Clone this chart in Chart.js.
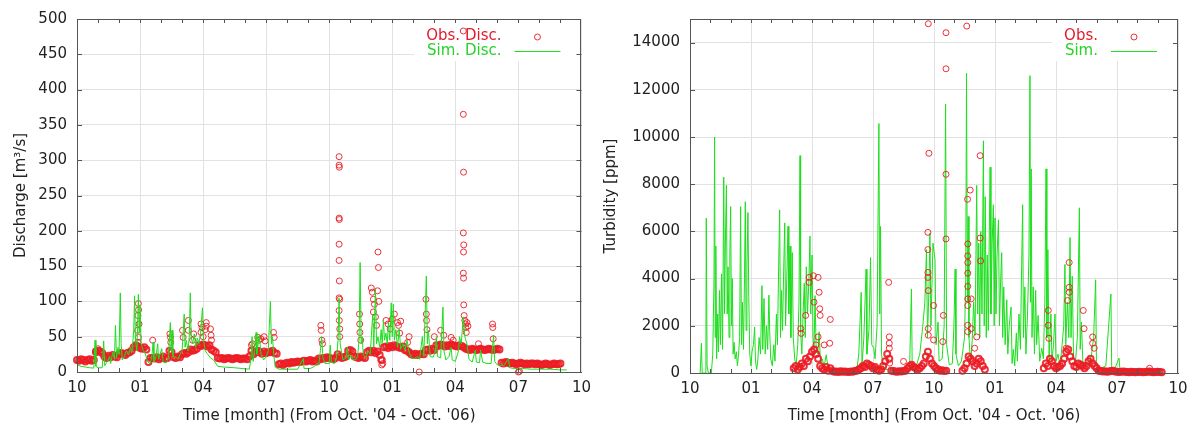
<!DOCTYPE html>
<html lang="en">
<head>
<meta charset="UTF-8">
<title>Discharge and turbidity, Oct. 2004 - Oct. 2006</title>
<script src="https://cdn.jsdelivr.net/npm/chart.js@4"></script>
<style>
    body { margin: 0; background: #fff; }
    .row { display: flex; width: 1197px; height: 425px; }
    .row canvas { display: block; }
</style>
</head>
<body>
<div class="row">
    <canvas id="dischargeChart" width="598" height="425"></canvas>
    <canvas id="turbidityChart" width="599" height="425"></canvas>
</div>

<script>
// time is in months from 1 Oct 2004 (0) to 1 Oct 2006 (24)
const monthLabels = ['10', '01', '04', '07'];
const dischargeTicks = [0, 50, 100, 150, 200, 250, 300, 350, 400, 450, 500];
const turbidityTicks = [0, 2000, 4000, 6000, 8000, 10000, 12000, 14000];

// ---- discharge [m3/s] ----
// simulated discharge, [month, value]
const dischargeSim = [
    [0,10],[0.2,8],[0.4,7],[0.6,6],[0.8,5.5],[0.86,45],[0.9,8],[1.0,6],[1.2,6],[1.27,44],[1.32,9],
    [1.45,15],[1.55,22],[1.6,12],[1.7,28],[1.78,18],[1.83,66],[1.88,20],[1.95,35],[2.0,25],[2.06,112],
    [2.1,40],[2.15,17],[2.25,22],[2.35,30],[2.45,24],[2.55,35],[2.62,28],[2.7,60],[2.74,108],[2.78,45],
    [2.85,30],[2.92,110],[2.96,55],[3.0,95],[3.05,40],[3.15,31],[3.25,26],[3.35,15],[3.45,12],[3.55,18],
    [3.62,42],[3.66,14],[3.75,20],[3.84,40],[3.88,18],[3.95,25],[4.03,33],[4.1,14],[4.25,13],[4.35,20],
    [4.44,70],[4.48,30],[4.52,59],[4.56,22],[4.7,21],[4.8,18],[4.9,25],[5.0,30],[5.1,82],[5.14,35],
    [5.2,45],[5.28,30],[5.34,50],[5.39,112],[5.43,50],[5.5,40],[5.58,54],[5.65,35],[5.72,48],[5.8,40],
    [5.88,55],[5.97,91],[6.02,45],[6.1,30],[6.2,26],[6.35,20],[6.5,17],[6.7,8],[7.0,7],[7.5,6],
    [8.0,4.5],[8.2,4],[8.28,20],[8.33,50],[8.38,15],[8.45,30],[8.52,56],[8.56,25],[8.62,40],[8.68,52],
    [8.75,25],[8.88,17],[9.0,22],[9.1,30],[9.2,100],[9.25,40],[9.3,50],[9.36,25],[9.43,7],[9.6,4],
    [10.0,4],[10.5,4],[10.77,19],[10.8,5],[11.1,5],[11.3,8],[11.4,12],[11.5,10],[11.58,30],[11.64,50],
    [11.7,20],[11.8,12],[12.0,12],[12.05,38],[12.1,14],[12.25,12],[12.35,20],[12.42,45],[12.47,105],
    [12.52,40],[12.57,31],[12.65,17],[12.8,20],[12.87,35],[12.92,17],[13.05,24],[13.1,18],[13.25,17],
    [13.35,22],[13.42,45],[13.47,155],[13.52,40],[13.57,50],[13.62,24],[13.75,21],[13.85,30],[13.95,25],
    [14.07,82],[14.12,35],[14.2,117],[14.25,40],[14.32,50],[14.4,35],[14.47,60],[14.52,40],[14.58,73],
    [14.63,45],[14.7,55],[14.76,40],[14.82,70],[14.88,45],[14.95,98],[15.0,50],[15.05,96],[15.1,45],
    [15.17,60],[15.25,35],[15.33,61],[15.4,32],[15.5,40],[15.6,31],[15.7,45],[15.8,28],[15.9,20],
    [16.05,19],[16.2,22],[16.3,18],[16.43,50],[16.5,22],[16.62,136],[16.67,40],[16.72,59],[16.8,22],
    [16.95,21],[17.05,30],[17.1,50],[17.15,22],[17.3,20],[17.41,92],[17.46,30],[17.55,17],[17.7,22],
    [17.8,35],[17.85,17],[18.0,15],[18.15,30],[18.2,50],[18.28,40],[18.38,78],[18.45,50],[18.55,40],
    [18.65,18],[18.8,14],[18.95,31],[19.0,14],[19.15,13],[19.2,31],[19.3,14],[19.5,12],[19.7,12],
    [19.82,52],[19.87,15],[20.0,10],[20.3,9],[20.53,19],[20.58,6],[20.8,5],[21.2,5],[21.6,4],[22.0,4],
    [22.5,4],[23.0,3],[23.3,3]
];

// observed daily discharge, one value every 0.1 month from month 0
const dischargeObsStart = 0;
const dischargeObs = [
    17,16,18,17,15,17,18,16,17, 28,30,29,27, 22,20,23,21,24,22,21, 25,27,26,24,27,28,30,
    35,38,36, 34,33,35,32, 14,20, 20,19,21,18,20,22,19,20, 30,28, 21,20,22,21, 25,27,26,28,
    32,30,31,33, 38,37,39,38,36,38, 32,30,28,
    20,19,20,18,19,20,19,18,19,20,19,18,19,19,18, 22,30,25,28, 30,28,26,29,27,28, 28,30,27,26,
    11,12,10,12,13,12,14,13,14,15,14,15, 16,15,16,17,15,16,15, 19,18,20,19,21,20,19,18,20, 25,22,
    20,21,22,30,31,29,22,21,20,22,21,20,28,30, 28,30,27,29, 24,17,
    35,36,34,37,35,38,36,35,34,36, 31,30,28,25,24,26,24,25,26,25, 31,32,30,33,31,
    38,37,39,38,36,38,37,39,38,37,36,38,37,
    35,33,32,31,33,32,31,32,33,32,31,32,33,32,31,32,33,32,
    13,12,14,13,12,13,12,11,12,13,12,11,12,11,12,12,11,12,11,10,11,12,11,10,11,12,11,11,12
];

// observed discharge flood peaks, [month, value]
const dischargeObsPeaks = [
    [0.88,30],[1.0,33],
    [2.92,97],[2.93,88],[2.9,80],[2.95,68],[2.88,59],[2.92,49],[2.9,42],
    [3.6,45],[4.42,54],[4.45,49],[4.46,42],
    [5.02,59],[5.05,49],[5.3,73],[5.3,59],[5.55,54],[5.5,45],
    [5.9,68],[5.95,63],[5.9,56],[6.0,50],[6.15,70],[6.15,65],[6.1,60],[6.35,61],[6.38,52],[6.4,45],
    [8.3,38],[8.35,40],[8.6,49],[8.65,45],[8.75,47],[8.9,50],[8.95,44],[9.35,56],[9.38,49],
    [11.6,66],[11.62,59],[11.65,45],[11.68,40],
    [12.47,305],[12.47,293],[12.48,290],[12.47,218],[12.48,216],[12.47,181],[12.47,158],[12.48,129],
    [12.47,105],[12.5,103],[12.47,87],[12.48,73],[12.5,61],[12.5,50],
    [13.44,82],[13.45,68],[13.46,56],[13.5,45],
    [14.0,119],[14.05,113],[14.1,103],[14.15,96],[14.1,85],[14.2,78],[14.25,66],
    [14.32,170],[14.34,148],[14.3,115],[14.36,100],[14.45,17],[14.5,10],[14.55,12],
    [14.7,73],[14.8,68],[14.9,61],[15.0,75],[15.1,82],[15.25,70],[15.3,66],[15.4,72],[15.35,55],
    [15.73,42],[15.8,50],[16.28,0],
    [16.6,103],[16.62,82],[16.63,73],[16.65,60],
    [17.0,50],[17.3,59],[17.45,52],[17.8,49],[17.9,45],
    [18.38,483],[18.38,365],[18.39,283],[18.38,197],[18.4,180],[18.39,170],[18.38,140],[18.39,133],
    [18.4,95],[18.42,80],[18.45,73],[18.48,68],[18.5,63],[18.52,56],[18.55,70],[18.6,65],
    [19.1,40],[19.77,68],[19.78,63],[19.8,47],[21.0,0],[21.05,1]
];

// ---- turbidity [ppm] ----
const turbiditySim = [
    [0.5,0],[0.56,1260],[0.6,0],[0.78,0],[0.8,6560],[0.84,300],[0.9,0],[1.05,0],[1.12,800],[1.18,4000],
    [1.21,10000],[1.24,1500],[1.27,5380],[1.31,600],[1.36,2500],[1.4,900],[1.45,3500],[1.5,1200],[1.55,4200],
    [1.6,1000],[1.66,8300],[1.7,2500],[1.74,5500],[1.79,7950],[1.83,2500],[1.87,4500],[1.92,1500],[1.96,5000],
    [2.0,7050],[2.04,2000],[2.08,4000],[2.12,800],[2.17,1300],[2.22,600],[2.28,900],[2.33,300],[2.38,700],
    [2.44,1500],[2.49,7050],[2.53,1200],[2.58,3000],[2.63,1000],[2.68,4000],[2.72,7260],[2.76,1800],
    [2.8,4500],[2.85,6800],[2.89,3250],[2.94,800],[3.0,300],[3.05,900],[3.12,1200],[3.18,1950],[3.22,500],
    [3.28,150],[3.34,600],[3.4,1500],[3.47,800],[3.54,3700],[3.58,1000],[3.64,3160],[3.7,800],[3.76,2000],
    [3.82,1000],[3.88,3300],[3.92,1760],[3.97,600],[4.05,300],[4.12,1200],[4.18,500],[4.25,2500],[4.3,1200],
    [4.36,4500],[4.41,6910],[4.45,1500],[4.5,3500],[4.55,1800],[4.61,4500],[4.66,6360],[4.7,2000],[4.76,4000],
    [4.82,6220],[4.86,2500],[4.92,5380],[4.96,1500],[5.03,5100],[5.08,1500],[5.15,600],[5.22,300],[5.3,1200],
    [5.36,3000],[5.41,9210],[5.44,1760],[5.5,800],[5.56,2500],[5.62,3800],[5.67,1500],[5.72,4500],[5.78,2500],
    [5.85,4000],[5.9,5800],[5.94,2500],[6.0,5000],[6.05,1500],[6.1,1000],[6.15,3280],[6.2,1200],[6.28,800],
    [6.35,1750],[6.42,400],[6.5,600],[6.6,300],[6.7,770],[6.8,150],[7.0,100],[7.5,80],
    [8.0,60],[8.2,100],[8.3,800],[8.42,3420],[8.46,300],[8.55,1500],[8.66,4400],[8.7,800],[8.8,1800],
    [8.88,4890],[8.94,1200],[9.04,1050],[9.1,600],[9.2,2000],[9.29,10570],[9.33,2500],[9.37,6210],[9.42,800],
    [9.49,300],[9.6,150],[10.0,120],[10.5,100],[10.8,200],[10.89,3560],[10.93,150],[11.1,200],[11.3,800],
    [11.45,2000],[11.55,3000],[11.63,5230],[11.68,1500],[11.75,3500],[11.8,5930],[11.85,2000],[11.95,5500],
    [12.05,4800],[12.1,1200],[12.2,2160],[12.25,500],[12.4,600],[12.5,2000],[12.57,11400],[12.62,1200],
    [12.75,350],[12.9,400],[12.98,2000],[13.04,4400],[13.08,800],[13.2,300],[13.35,500],[13.5,1500],
    [13.56,4000],[13.6,12700],[13.64,3000],[13.68,6630],[13.72,1500],[13.8,400],[13.88,1400],[13.95,3000],
    [14.02,1600],[14.1,7950],[14.15,2500],[14.2,5500],[14.25,1500],[14.3,6000],[14.36,2500],[14.43,9840],
    [14.47,2000],[14.52,7470],[14.57,1500],[14.62,5000],[14.67,1800],[14.72,6000],[14.76,8720],[14.8,2500],
    [14.86,5500],[14.92,7130],[14.96,2000],[15.0,6570],[15.05,2500],[15.1,5000],[15.17,6490],[15.22,2000],
    [15.28,4000],[15.33,5100],[15.38,1500],[15.43,3650],[15.5,1200],[15.58,3100],[15.63,800],[15.7,2000],
    [15.79,2800],[15.84,400],[15.9,1000],[15.97,300],[16.05,1700],[16.1,500],[16.18,2500],[16.25,1000],
    [16.31,4500],[16.36,7130],[16.4,1500],[16.47,3650],[16.52,800],[16.6,2500],[16.67,5000],[16.72,12600],
    [16.75,3000],[16.78,8650],[16.82,1500],[16.88,3650],[16.94,800],[17.0,3500],[17.05,1200],[17.12,2440],
    [17.2,500],[17.3,1050],[17.38,600],[17.45,3000],[17.51,8650],[17.55,1500],[17.6,5230],[17.66,600],
    [17.75,2500],[17.8,500],[17.88,1200],[17.95,2500],[18.0,500],[18.1,800],[18.2,300],[18.3,1200],
    [18.38,2000],[18.44,4600],[18.48,1200],[18.56,3000],[18.63,1500],[18.69,5740],[18.74,1500],[18.8,4100],
    [18.86,700],[18.95,400],[19.05,1500],[19.15,7000],[19.19,1000],[19.25,2160],[19.32,500],[19.45,300],
    [19.6,300],[19.75,800],[19.85,1500],[19.95,3950],[19.99,300],[20.2,200],[20.45,300],[20.7,3350],
    [20.74,150],[20.9,200],[21.1,630],[21.15,100],[21.4,120],[21.7,50],[22.0,80],[22.4,60],[22.8,50],[23.2,40]
];

// observed turbidity, one value every 0.1 month from month 5.1 (null = no record)
const turbidityObsStart = 5.1;
const turbidityObs = [
    200,300,150,250, 400,300,600,500, 700,900,1000,800,600, 300,200,150,250,100,200,
    80,50,60,40,70,50,60,50,40,60,50,80,100,150, 200,300,250,400,350,300, 200,250,150,100,150,
    300,500,800,600, 100,80,60,50,70,60,80,100, 200,300,350,250,200, 150,200,300,400,
    700,900,600,400,300, 200,150,100,120,80,100,
    null,null,null,null,null,null,null,
    100,200,400,700,600,500,300,400,600,500,300,150,
    null,null,null,null,null,null,null,null,null,null,null,null,null,null,
    null,null,null,null,null,null,null,null,null,null,null,null,null,null,
    200,400,300,600,500, 300,200,250,300,400, 600,900,1000,700,500, 300,250,400,350,300,200,
    300,500,600,400,300,200,
    100,80,60,70,50,60,80,100,60,50,40,50,60,50,40,30,50,40,30,40,50,40,30,40,50,60,40,30,40,50,40,30
];

const turbidityObsPeaks = [
    [5.45,1880],[5.47,1680],[5.69,2440],[5.86,4050],[5.86,3840],[6.07,4120],[6.1,3000],[6.3,4050],
    [6.35,3420],[6.38,2720],[6.4,2440],[6.3,1530],[6.2,1190],[6.6,1190],[6.9,2270],[6.87,1260],
    [9.77,3840],[9.8,1530],[9.8,1260],[9.8,1050],[9.82,420],[10.5,490],
    [11.72,14800],[11.75,9310],[11.7,5960],[11.7,5230],[11.7,4260],[11.7,4050],[11.72,3490],[11.98,2860],
    [11.72,1880],[11.72,1600],[11.98,1400],[12.46,2440],[12.43,1330],
    [12.59,14420],[12.59,12890],[12.59,8420],[12.59,5680],
    [13.61,14700],[13.65,7360],[13.66,5470],[13.66,4960],[13.66,4680],[13.66,4230],[13.66,3670],
    [13.66,3140],[13.66,2860],[13.66,2020],[13.66,1750],[13.78,7750],[13.83,3140],[13.83,1880],
    [14.27,9210],[14.27,5720],[14.29,4750],[14.1,1530],[14.0,1050],
    [17.62,2650],[17.62,2020],[17.65,1470],
    [18.65,4680],[18.57,3070],[18.65,3630],[18.65,3420],[18.5,1050],
    [19.34,2650],[19.38,1880],[19.8,1530],[19.8,1260],[19.88,1050],[22.6,200]
];

const simColor = 'rgb(30, 222, 30)';
const obsColor = 'rgba(236, 28, 36, 0.9)';
const fontFamily = '"DejaVu Sans", "Liberation Sans", sans-serif';

Chart.defaults.font.family = fontFamily;
Chart.defaults.font.size = 15;
Chart.defaults.color = '#222';

const toPoints = pairs => pairs.map(([x, y]) => ({ x, y }));
const dailyPoints = (start, values) => values.map((y, i) => ({ x: Math.round((start + i * 0.1) * 100) / 100, y }));

// gnuplot style key: white box, text right aligned, sample on the right
const keyBox = {
    id: 'keyBox',
    beforeDatasetsDraw(chart, args, opts) {
        const { ctx, chartArea: a } = chart;
        ctx.save();
        ctx.font = '15px ' + fontFamily;
        const textRight = a.right - 80;
        const widest = Math.max(...opts.entries.map(e => ctx.measureText(e.text).width));
        const boxLeft = textRight - widest - 12;
        ctx.fillStyle = '#fff';
        ctx.fillRect(boxLeft, a.top + 1, a.right - boxLeft - 1, 41);
        opts.entries.forEach((e, i) => {
            const yy = a.top + 17 + i * 15;
            ctx.fillStyle = e.textColor;
            ctx.textAlign = 'right';
            ctx.textBaseline = 'middle';
            ctx.fillText(e.text, textRight, yy);
            ctx.strokeStyle = e.color;
            ctx.lineWidth = 1;
            ctx.beginPath();
            if (e.kind === 'line') {
                ctx.moveTo(a.right - 67, yy + 0.5);
                ctx.lineTo(a.right - 21, yy + 0.5);
            } else {
                ctx.arc(a.right - 44, yy + 1, 3, 0, Math.PI * 2);
            }
            ctx.stroke();
        });
        ctx.restore();
    }
};

// border on all four sides with inward ticks (monthly on x)
const frame = {
    id: 'frame',
    afterDraw(chart) {
        const { ctx, chartArea: a, scales: { x, y } } = chart;
        ctx.save();
        ctx.strokeStyle = '#555';
        ctx.lineWidth = 1;
        ctx.beginPath();
        y.ticks.forEach(t => {
            if (t.value <= y.min || t.value >= y.max) return;
            const py = Math.round(y.getPixelForValue(t.value)) + 0.5;
            ctx.moveTo(a.left, py); ctx.lineTo(a.left + 5, py);
            ctx.moveTo(a.right, py); ctx.lineTo(a.right - 5, py);
        });
        for (let m = x.min + 1; m < x.max; m++) {
            const px = Math.round(x.getPixelForValue(m)) + 0.5;
            ctx.moveTo(px, a.bottom); ctx.lineTo(px, a.bottom - 4);
            ctx.moveTo(px, a.top); ctx.lineTo(px, a.top + 4);
        }
        ctx.stroke();
        ctx.strokeRect(Math.round(a.left) + 0.5, Math.round(a.top) + 0.5,
            Math.round(a.right - a.left) - 1, Math.round(a.bottom - a.top));
        ctx.restore();
    }
};

function buildOptions(cfg) {
    return {
        responsive: false,
        animation: false,
        events: [],
        layout: { padding: { top: 15, right: cfg.padRight, left: 0, bottom: 0 } },
        plugins: {
            legend: { display: false },
            tooltip: { enabled: false },
            keyBox: { entries: cfg.key }
        },
        scales: {
            x: {
                type: 'linear',
                min: 0,
                max: 24,
                afterFit: s => { s.height = cfg.xHeight; },
                ticks: {
                    stepSize: 3,
                    autoSkip: false,
                    maxRotation: 0,
                    padding: 7,
                    callback: v => monthLabels[Math.round(v / 3) % 4]
                },
                grid: { color: '#e2e2e2', drawTicks: false },
                border: { color: '#555' },
                title: {
                    display: true,
                    text: "Time [month] (From Oct. '04 - Oct. '06)",
                    padding: { top: 1, bottom: 0 }
                }
            },
            y: {
                min: 0,
                max: cfg.yMax,
                afterFit: s => { s.width = cfg.yWidth; },
                afterBuildTicks: s => { s.ticks = cfg.yTicks.map(v => ({ value: v })); },
                ticks: {
                    autoSkip: false,
                    padding: 10,
                    callback: v => String(v)
                },
                grid: { color: '#e2e2e2', drawTicks: false },
                border: { color: '#555' },
                title: {
                    display: true,
                    text: cfg.yTitle,
                    padding: { top: cfg.yTitlePad, bottom: 0 }
                }
            }
        }
    };
}

const obsDaily = { borderColor: obsColor, backgroundColor: 'rgba(0,0,0,0)', borderWidth: 2, pointRadius: 3, clip: 5 };
const obsPeak = { borderColor: obsColor, backgroundColor: 'rgba(0,0,0,0)', borderWidth: 1, pointRadius: 3, clip: 5 };
const simLine = { showLine: true, borderColor: simColor, borderWidth: 1, pointRadius: 0 };

new Chart(document.getElementById('dischargeChart'), {
    type: 'scatter',
    data: {
        datasets: [
            { label: 'Sim. Disc.', data: toPoints(dischargeSim), ...simLine, order: 0 },
            { label: 'Obs. Disc.', data: dailyPoints(dischargeObsStart, dischargeObs), ...obsDaily, order: 1 },
            { label: 'Obs. Disc. peaks', data: toPoints(dischargeObsPeaks), ...obsPeak, order: 1 }
        ]
    },
    options: buildOptions({
        padRight: 13, xHeight: 53, yWidth: 77, yMax: 500, yTicks: dischargeTicks,
        yTitle: 'Discharge [m³/s]', yTitlePad: 12,
        key: [
            { text: 'Obs. Disc.', textColor: 'rgb(226,26,44)', color: obsColor, kind: 'point' },
            { text: 'Sim. Disc.', textColor: 'rgb(40,210,40)', color: simColor, kind: 'line' }
        ]
    }),
    plugins: [keyBox, frame]
});

new Chart(document.getElementById('turbidityChart'), {
    type: 'scatter',
    data: {
        datasets: [
            { label: 'Obs.', data: dailyPoints(turbidityObsStart, turbidityObs), ...obsDaily, order: 0 },
            { label: 'Obs. peaks', data: toPoints(turbidityObsPeaks), ...obsPeak, order: 0 },
            { label: 'Sim.', data: toPoints(turbiditySim), ...simLine, order: 1 }
        ]
    },
    options: buildOptions({
        padRight: 19, xHeight: 52, yWidth: 92, yMax: 15000, yTicks: turbidityTicks,
        yTitle: 'Turbidity [ppm]', yTitlePad: 4,
        key: [
            { text: 'Obs.', textColor: 'rgb(226,26,44)', color: obsColor, kind: 'point' },
            { text: 'Sim.', textColor: 'rgb(40,210,40)', color: simColor, kind: 'line' }
        ]
    }),
    plugins: [keyBox, frame]
});
</script>
</body>
</html>
